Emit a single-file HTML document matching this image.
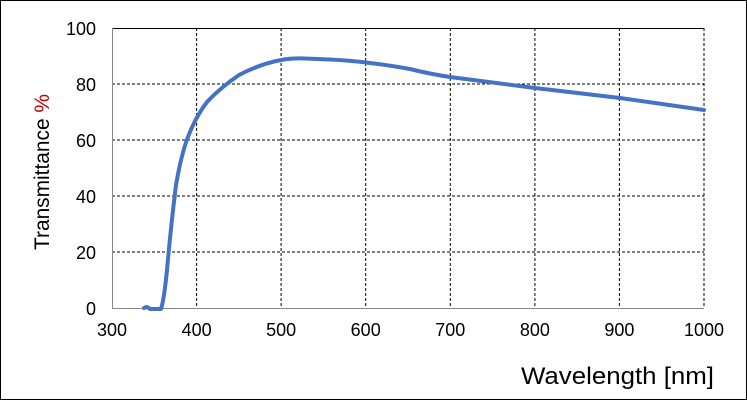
<!DOCTYPE html>
<html><head><style>body{margin:0;background:#fff}svg{display:block}</style></head>
<body>
<svg width="747" height="400" xmlns="http://www.w3.org/2000/svg" font-family="Liberation Sans, DejaVu Sans, sans-serif">
<rect x="0.5" y="0.5" width="746" height="399" fill="#fff" stroke="#000"/>
<g stroke="#000" stroke-width="1" stroke-dasharray="3,2" fill="none">
<line x1="112" y1="84" x2="704" y2="84"/><line x1="112" y1="140" x2="704" y2="140"/>
<line x1="112" y1="196" x2="704" y2="196"/><line x1="112" y1="252" x2="704" y2="252"/>
<line x1="196.6" y1="28" x2="196.6" y2="308"/><line x1="281.1" y1="28" x2="281.1" y2="308"/>
<line x1="365.7" y1="28" x2="365.7" y2="308"/><line x1="450.3" y1="28" x2="450.3" y2="308"/>
<line x1="534.9" y1="28" x2="534.9" y2="308"/><line x1="619.4" y1="28" x2="619.4" y2="308"/>
<line x1="704" y1="28" x2="704" y2="308"/>
</g>
<line x1="112" y1="28.5" x2="704" y2="28.5" stroke="#000"/>
<line x1="112.5" y1="28" x2="112.5" y2="309" stroke="#888"/>
<line x1="112" y1="308.5" x2="704" y2="308.5" stroke="#888"/>
<path d="M144,308 Q147,306 150,309 L161,309 Q164,300 167,270 Q171,225 176,185 Q182,150 190,132 Q197,115 207,102 Q220,88 239,75 Q260,64 281,60 Q292,58 305,58.5 L330,59.5 Q350,60.5 366,62.5 Q388,65 410,69 Q430,74 450,77 L535,88 L620,98 L704,110" fill="none" stroke="#4472c4" stroke-width="4" stroke-linejoin="round" stroke-linecap="round"/>
<g font-size="18" fill="#000" text-anchor="end">
<text x="96" y="35">100</text><text x="96" y="91">80</text><text x="96" y="147">60</text>
<text x="96" y="203">40</text><text x="96" y="259">20</text><text x="96" y="315">0</text>
</g>
<g font-size="18" fill="#000" text-anchor="middle">
<text x="112" y="336">300</text><text x="196.6" y="336">400</text><text x="281.1" y="336">500</text>
<text x="365.7" y="336">600</text><text x="450.3" y="336">700</text><text x="534.9" y="336">800</text>
<text x="619.4" y="336">900</text><text x="704" y="336">1000</text>
</g>
<text x="521" y="384" font-size="24" textLength="193" lengthAdjust="spacingAndGlyphs">Wavelength [nm]</text>
<text transform="translate(49,250) rotate(-90)" font-size="21" textLength="156" lengthAdjust="spacingAndGlyphs">Transmittance <tspan fill="#c00000">%</tspan></text>
</svg>
</body></html>
